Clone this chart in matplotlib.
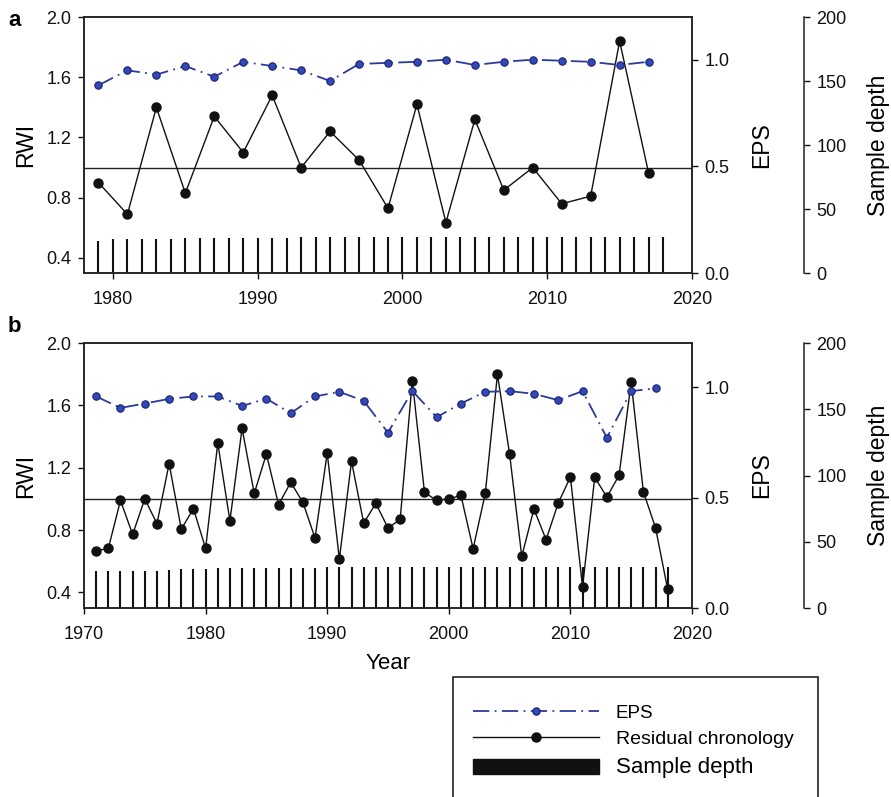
import numpy as np
import matplotlib.pyplot as plt
from matplotlib.patches import Rectangle

plt.rcParams['font.family'] = ['Liberation Sans', 'DejaVu Sans']

# panel a: residual chronology and EPS every second year
years_a = [1979, 1981, 1983, 1985, 1987, 1989, 1991, 1993, 1995, 1997,
           1999, 2001, 2003, 2005, 2007, 2009, 2011, 2013, 2015, 2017]
rwi_a = [0.90, 0.69, 1.40, 0.83, 1.34, 1.10, 1.48, 1.00, 1.24, 1.05,
         0.73, 1.42, 0.635, 1.32, 0.85, 1.00, 0.76, 0.81, 1.84, 0.965]
eps_a = [0.88, 0.95, 0.93, 0.97, 0.92, 0.99, 0.97, 0.95, 0.90, 0.98,
         0.985, 0.99, 1.0, 0.975, 0.99, 1.0, 0.995, 0.99, 0.975, 0.99]
depth_years_a = list(range(1979, 2019))
depth_a = [25.3, 26.3, 26.3, 26.3, 26.3, 26.5, 27.1, 27.4, 27.4, 27.4,
           27.4, 27.4, 27.4, 27.4, 28.1, 28.1, 28.1, 28.1, 28.1, 28.1,
           28.1, 28.1, 28.1, 28.1, 28.1, 28.1, 28.1, 28.1, 28.1, 28.1,
           28.1, 28.1, 28.1, 28.1, 28.1, 28.1, 28.1, 28.1, 28.1, 28.1]

# panel b: yearly residual chronology, EPS every second year
years_b = list(range(1971, 2019))
rwi_b = [0.667, 0.682, 0.99, 0.772, 1.00, 0.841, 1.226, 0.806, 0.937, 0.682,
         1.358, 0.860, 1.452, 1.035, 1.288, 0.963, 1.106, 0.978, 0.749, 1.294,
         0.614, 1.241, 0.845, 0.971, 0.813, 0.868, 1.758, 1.042, 0.99, 1.00,
         1.022, 0.680, 1.035, 1.799, 1.288, 0.631, 0.935, 0.738, 0.973, 1.140,
         0.434, 1.138, 1.012, 1.151, 1.748, 1.046, 0.815, 0.419]
eps_years_b = list(range(1971, 2018, 2))
eps_b = [0.958, 0.906, 0.926, 0.947, 0.958, 0.958, 0.915, 0.948, 0.882, 0.958,
         0.979, 0.938, 0.794, 0.983, 0.864, 0.926, 0.979, 0.982, 0.970, 0.941,
         0.982, 0.771, 0.982, 0.995]
depth_b = [27.7, 27.7, 28.2, 27.9, 27.7, 28.2, 28.4, 29.4, 29.4, 29.4,
           30.4, 30.4, 30.4, 30.4, 30.4, 30.4, 30.4, 30.4, 30.4, 30.7,
           30.7, 30.7, 31.2, 31.2, 31.2, 31.2, 31.2, 31.2, 31.2, 31.2,
           31.2, 31.2, 31.2, 31.2, 31.2, 31.2, 31.2, 31.2, 31.2, 31.2,
           31.2, 31.2, 31.2, 31.2, 31.2, 31.2, 31.2, 31.2]

EPS_LINE = '#2c3a9c'
EPS_FACE = '#3048b8'
SPINE = '#222222'
W, H = 891, 797
TICK_FS = 13
LABEL_FS = 16.5


def panel(rect, letter, letter_y, rwi_x, rwi_y, eps_x, eps_y, d_x, d_y,
          xlim, xticks):
    ax = fig.add_axes(rect)
    ax_eps = ax.twinx()
    ax_sd = ax.twinx()
    ax_sd.spines['right'].set_position(('axes', 1.184))
    for s in ['left', 'top', 'bottom']:
        ax_sd.spines[s].set_visible(False)
    ax_sd.set_zorder(0)
    ax.set_zorder(1)
    ax_eps.set_zorder(2)
    for a in (ax, ax_eps, ax_sd):
        a.patch.set_visible(False)
        for s in a.spines.values():
            s.set_color(SPINE)
            s.set_linewidth(1.1)
        a.tick_params(axis='y', direction='out', length=4, width=1.0,
                      pad=5, labelsize=TICK_FS, colors='#111111')
    ax.tick_params(axis='x', direction='out', length=4, width=1.0,
                   pad=9, labelsize=TICK_FS, colors='#111111')

    # thin sample-depth bars, one per year
    bars = ax_sd.bar(d_x, d_y, width=0.0, color='#111111',
                     edgecolor='#111111', linewidth=1.5, snap=True)
    ax_sd.set_ylim(0, 200)
    ax_sd.set_yticks([0, 50, 100, 150, 200])
    ax_sd.set_ylabel('Sample depth', fontsize=LABEL_FS, labelpad=15)

    ax.axhline(1.0, color='#222222', lw=1.0, zorder=1)
    res, = ax.plot(rwi_x, rwi_y, color='#111111', lw=1.0, marker='o',
                   ms=6.5, mfc='#111111', mec='#111111', zorder=3)
    ax.set_ylim(0.3, 2.0)
    ax.set_yticks([0.4, 0.8, 1.2, 1.6, 2.0])
    ax.set_yticklabels(['%.1f' % v for v in [0.4, 0.8, 1.2, 1.6, 2.0]])
    ax.set_ylabel('RWI', fontsize=LABEL_FS, labelpad=7)
    ax.set_xlim(*xlim)
    ax.set_xticks(xticks)

    eps, = ax_eps.plot(eps_x, eps_y, color=EPS_LINE, lw=1.3,
                       linestyle=(0, (9, 3, 1, 3)), marker='o', ms=5.3,
                       mfc=EPS_FACE, mec='#1b2170', mew=0.8)
    ax_eps.set_ylim(0, 1.2)
    ax_eps.set_yticks([0.0, 0.5, 1.0])
    ax_eps.set_yticklabels(['0.0', '0.5', '1.0'])
    ax_eps.set_ylabel('EPS', fontsize=LABEL_FS, labelpad=15)

    fig.text(8 / W, 1 - letter_y / H, letter, fontsize=16,
             fontweight='bold', ha='left', va='center')
    return ax, eps, res, bars


fig = plt.figure(figsize=(W / 100, H / 100), dpi=100)

ax_a, eps_h, res_h, bar_h = panel([84 / W, 1 - 273 / H, 608 / W, 256 / H],
                                  'a', 21, years_a, rwi_a, years_a, eps_a,
                                  depth_years_a, depth_a,
                                  (1978, 2020), [1980, 1990, 2000, 2010, 2020])
ax_b, _, _, _ = panel([84 / W, 1 - 608 / H, 608 / W, 265 / H],
                      'b', 327, years_b, rwi_b, eps_years_b, eps_b,
                      years_b, depth_b,
                      (1970, 2020), [1970, 1980, 1990, 2000, 2010, 2020])
ax_b.set_xlabel('Year', fontsize=16, labelpad=7)

# legend box running off the bottom edge
fig.patches.append(Rectangle((453 / W, -0.05), 365 / W, (797 - 677) / H + 0.05,
                             transform=fig.transFigure, fill=False,
                             edgecolor='#222222', lw=1.2))
sd_handle = Rectangle((0, 0), 1, 1, facecolor='#111111', edgecolor='#111111')
leg = fig.legend([eps_h, res_h, sd_handle],
                 ['EPS', 'Residual chronology', 'Sample depth'],
                 loc='upper left', bbox_to_anchor=(473 / W, 1 - 704 / H),
                 frameon=False, fontsize=13.5, handlelength=6.7,
                 handletextpad=0.9, handleheight=0.85, labelspacing=0.45,
                 borderpad=0, borderaxespad=0, numpoints=1)
texts = leg.get_texts()
texts[1].set_fontsize(14)
texts[2].set_fontsize(16)

fig.savefig('out.png', dpi=100)
